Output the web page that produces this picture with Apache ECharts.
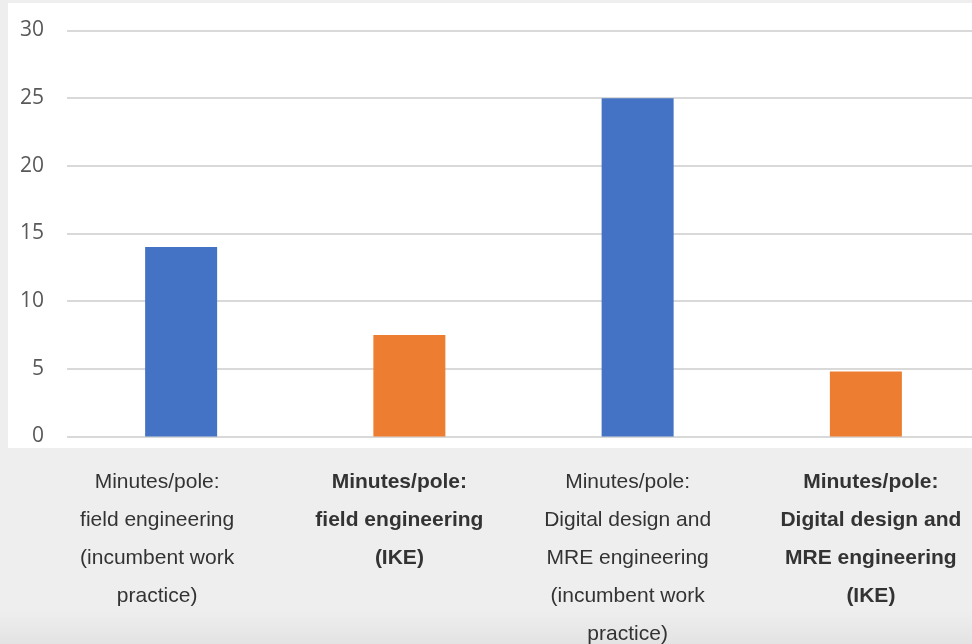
<!DOCTYPE html>
<html>
<head>
<meta charset="utf-8">
<script src="https://cdn.jsdelivr.net/npm/echarts@6/dist/echarts.min.js"></script>
<style>
html,body{margin:0;padding:0;background:#eeeeee;}
#chart{width:972px;height:644px;}
</style>
</head>
<body>
<div id="chart"></div>
<script>
var categories = [
  'Minutes/pole:\nfield engineering\n(incumbent work\npractice)',
  'Minutes/pole:\nfield engineering\n(IKE)',
  'Minutes/pole:\nDigital design and\nMRE engineering\n(incumbent work\npractice)',
  'Minutes/pole:\nDigital design and\nMRE engineering\n(IKE)'
];
var minutesPerPole = [14, 7.5, 25, 4.8];
var yTicks = [0, 5, 10, 15, 20, 25, 30];

var boldFlags = [false, true, false, true];
var labelPads = [[0, 48, 0, 0], [0, 20, 0, 0], [0, 20, 0, 0], [0, 0, 0, 10]];
var barColors = ['#4472c4', '#ed7d31'];

var chart = echarts.init(document.getElementById('chart'));
chart.setOption({
  backgroundColor: '#eeeeee',
  animation: false,
  graphic: [
    { type: 'rect', z: -10, shape: { x: 8, y: 3, width: 970, height: 445 }, style: { fill: '#ffffff' }, silent: true },
    { type: 'rect', z: -10, shape: { x: 0, y: 612, width: 972, height: 32 },
      style: { fill: new echarts.graphic.LinearGradient(0, 0, 0, 1, [
        { offset: 0, color: '#eeeeee' }, { offset: 1, color: '#e3e3e3' }]) }, silent: true }
  ],
  grid: { left: 67, right: -8, top: 30.5, bottom: 207.5, containLabel: false, outerBoundsMode: 'none' },
  xAxis: {
    type: 'category',
    data: categories.map(function (c, i) {
      return { value: c, textStyle: { fontWeight: boldFlags[i] ? 'bold' : 'normal', padding: labelPads[i] } };
    }),
    axisLine: { show: false },
    axisTick: { show: false },
    axisLabel: {
      interval: 0,
      margin: 27,
      fontFamily: 'Liberation Sans, Arial, sans-serif',
      fontSize: 21,
      lineHeight: 38,
      color: '#333333',
      align: 'center',
      verticalAlign: 'top'
    }
  },
  yAxis: {
    type: 'value',
    min: yTicks[0],
    max: yTicks[yTicks.length - 1],
    interval: yTicks[1] - yTicks[0],
    axisLine: { show: false },
    axisTick: { show: false },
    splitLine: { lineStyle: { color: '#d9d9d9', width: 2 } },
    axisLabel: {
      margin: 23,
      fontFamily: 'Open Sans, sans-serif',
      fontSize: 21,
      color: '#595959'
    }
  },
  series: [{
    type: 'bar',
    data: minutesPerPole,
    barWidth: 72,
    itemStyle: {
      color: function (p) { return barColors[p.dataIndex % 2]; }
    }
  }]
});
</script>
</body>
</html>
